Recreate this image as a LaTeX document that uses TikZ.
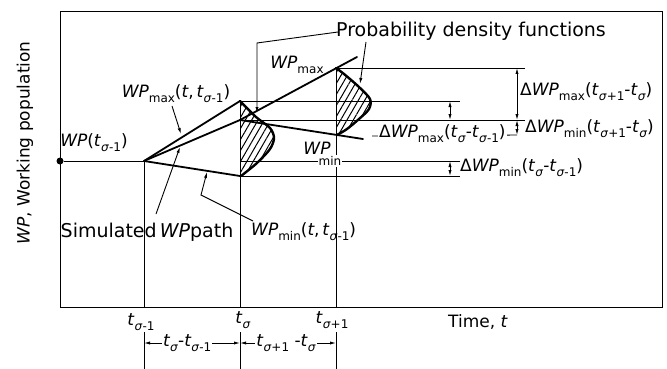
\documentclass[tikz,border=0pt]{standalone}
\usepackage{fontspec}
\setmainfont{DejaVu Sans}
\usetikzlibrary{patterns.meta,arrows.meta}
\newcommand\WP{\textit{WP}}
\newcommand\sbs[1]{\raisebox{-0.28em}{\fontsize{12}{12}\selectfont #1}}
\newcommand\tsub[1]{\textit{t}\sbs{#1}}
\newcommand\sg{\textit{σ}}
\begin{document}
\begin{tikzpicture}[x=1pt,y=-1pt,
  frameline/.style={line width=1pt},
  thinl/.style={line width=0.9pt},
  cone/.style={line width=1.8pt, line cap=round},
  pdfcurve/.style={line width=2.4pt, line join=round, line cap=round},
  hatch/.style={pattern={Lines[angle=60,distance=5.5pt,line width=1pt]}},
  dim/.style={line width=0.9pt,{Latex[length=6pt,width=3.2pt]}-{Latex[length=6pt,width=3.2pt]}},
  lead/.style={line width=0.9pt,-{Latex[length=6pt,width=3.2pt]}},
  lbl/.style={inner sep=1pt, font=\fontsize{17}{19}\selectfont},
  biglbl/.style={inner sep=1pt, font=\fontsize{19}{21}\selectfont},
  wlbl/.style={lbl, fill=white}]
\useasboundingbox (0,0) rectangle (667,369);
% frame
\coordinate (F1) at (60,12);
\coordinate (F2) at (662,307);
\draw[frameline] (F1) rectangle (F2);
% key points
\coordinate (O) at (144,161);
\coordinate (Amax) at (240,101);
\coordinate (Asim) at (240,120);
\coordinate (Amin) at (240,176);
\coordinate (Bmax) at (336,68);
\coordinate (Bmin) at (336,135);
\coordinate (Bmaxext) at (357,57);
\coordinate (Bminext) at (363,139);
\coordinate (Of) at (144,307);
\coordinate (Af) at (240,307);
\coordinate (Bf) at (336,307);
\coordinate (Os) at (144,332);
\coordinate (As) at (240,332);
\coordinate (Bs) at (336,332);
\coordinate (Ob) at (144,369);
\coordinate (Ab) at (240,369);
\coordinate (Bb) at (336,369);
% vertical time lines
\draw[thinl] (O) -- (Of);
\draw[thinl] (Amax) -- (Af);
\draw[thinl] (Bmax) -- (Bf);
\draw[thinl] (Os) -- (Ob);
\draw[thinl] (As) -- (Ab);
\draw[thinl] (Bs) -- (Bb);
% horizontal reference lines
\node[circle, fill=black, inner sep=0pt, minimum size=7pt] (dot) at (60,161) {};
\coordinate (H161e) at (460,161);
\coordinate (H161s) at (240,161);
\coordinate (H101e) at (460,101);
\coordinate (H120e) at (525,120);
\coordinate (H176e) at (460,176);
\coordinate (H68e) at (525,68);
\draw[thinl] (dot) -- (O);
\draw[thinl] (H161s) -- (H161e);
\draw[thinl] (Amax) -- (H101e);
\draw[thinl] (Asim) -- (H120e);
\draw[thinl] (Amin) -- (H176e);
\draw[thinl] (Bmax) -- (H68e);
% pdfs (hatched)
\fill[hatch] plot[smooth] coordinates {(240,101) (256,117) (270,128) (274,138) (270,149) (257,163) (241,176)} -- cycle;
\fill[hatch] plot[smooth] coordinates {(336,68) (344,74) (359,87) (370,99) (369,109) (359,119) (347,129) (337,135)} -- cycle;
% cones
\draw[cone] (O) -- (Amax);
\draw[cone] (O) -- (Asim);
\draw[cone] (O) -- (Amin);
\draw[cone] (Asim) -- (Bmaxext);
\draw[cone] (Asim) -- (Bminext);
\draw[pdfcurve] plot[smooth] coordinates {(240,101) (256,117) (270,128) (274,138) (270,149) (257,163) (241,176)};
\draw[pdfcurve] plot[smooth] coordinates {(336,68) (344,74) (359,87) (370,99) (369,109) (359,119) (347,129) (337,135)};
% dimension arrows on the right
\coordinate (D1a) at (517,68);
\coordinate (D1b) at (517,120);
\coordinate (D2b) at (517,135);
\coordinate (D3a) at (450,101);
\coordinate (D3b) at (450,120);
\coordinate (D4a) at (450,161);
\coordinate (D4b) at (450,176);
\coordinate (L136s) at (372,136);
\draw[dim] (D1a) -- (D1b);
\draw[dim] (D1b) -- (D2b);
\draw[dim] (D3a) -- (D3b);
\draw[dim] (D4a) -- (D4b);
\draw[thinl] (L136s) -- (D2b);
% labels
\node[lbl, rotate=90] (ylab) at (25,143) {\WP, Working population};
\node[lbl] (xlab) at (478,322) {Time, \textit{t}};
\node[lbl] (t1) at (141,322) {\tsub{\sg-1}};
\node[lbl] (t2) at (243,320) {\tsub{\sg}};
\node[lbl] (t3) at (332,320) {\tsub{\sg+1}};
\node[lbl] (wpt) at (94,143) {\WP(\tsub{\sg-1})};
\node[lbl] (wpmaxt) at (176,94) {\WP\sbs{max}(\textit{t},\,\tsub{\sg-1})};
\node[lbl] (wpmax) at (297,65) {\WP\sbs{max}};
\node[lbl] (wpminA) at (317,148) {\WP};
\node[wlbl, font=\fontsize{12}{12}\selectfont] (wpminB) at (330,161) {min};
\node[biglbl] (pdflab) at (471,31) {Probability density functions};
\node[lbl, anchor=west] (d1) at (519,92) {Δ\WP\sbs{max}(\tsub{\sg+1}-\tsub{\sg})};
\node[lbl, anchor=west] (d2) at (524,129) {Δ\WP\sbs{min}(\tsub{\sg+1}-\tsub{\sg})};
\node[wlbl, anchor=west] (d3) at (378,134) {Δ\WP\sbs{max}(\tsub{\sg}-\tsub{\sg-1})};
\node[lbl, anchor=west] (d4) at (459,168) {Δ\WP\sbs{min}(\tsub{\sg}-\tsub{\sg-1})};
\node[biglbl] (sim) at (147,232) {Simulated\,\WP path};
\node[lbl, anchor=west] (wpmint) at (250,232) {\WP\sbs{min}(\textit{t},\,\tsub{\sg-1})};
% bottom dimension
\coordinate (B1) at (144,343);
\coordinate (B2) at (240,343);
\coordinate (B3) at (336,343);
\draw[dim] (B1) -- (B2) node[wlbl, pos=0.45] (bd1) {\tsub{\sg}-\tsub{\sg-1}};
\draw[dim] (B2) -- (B3) node[wlbl, pos=0.48] (bd2) {\tsub{\sg+1} -\tsub{\sg}};
% leaders
\coordinate (la1) at (172,106);
\coordinate (la2) at (181,134);
\draw[lead] (la1) -- (la2);
\coordinate (ls1) at (156,214);
\coordinate (ls2) at (180,147);
\draw[lead] (ls1) -- (ls2);
\coordinate (lm1) at (253,221);
\coordinate (lm2) at (201,195);
\coordinate (lm3) at (207,172);
\draw[lead] (lm1) -- (lm2) -- (lm3);
\coordinate (lp1) at (338,32);
\coordinate (lp2) at (257,43);
\coordinate (lp3) at (257,113);
\draw[lead] (lp1) -- (lp2) -- (lp3);
\coordinate (lq1) at (366,42);
\coordinate (lq2) at (360,84);
\draw[lead] (lq1) -- (lq2);
\end{tikzpicture}
\end{document}
